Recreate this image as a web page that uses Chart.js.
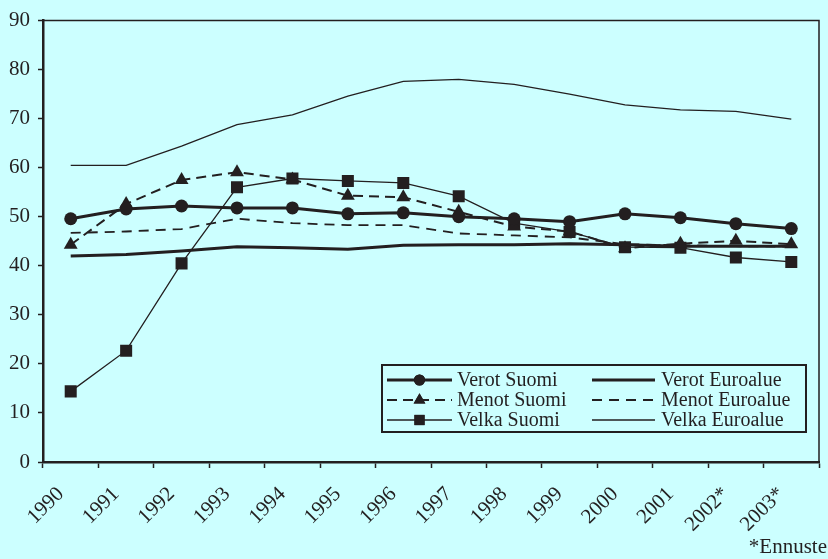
<!DOCTYPE html>
<html>
<head>
<meta charset="utf-8">
<script src="https://cdn.jsdelivr.net/npm/chart.js@4/dist/chart.umd.min.js"></script>
<style>
html,body{margin:0;padding:0;background:#ccffff;}
#wrap{width:828px;height:559px;position:relative;}
</style>
</head>
<body>
<div id="wrap"><canvas id="c" width="828" height="559"></canvas></div>
<script>
const categories = ["1990","1991","1992","1993","1994","1995","1996","1997","1998","1999","2000","2001","2002*","2003*"];
const verotSuomi    = [49.6,51.6,52.2,51.8,51.8,50.6,50.8,50.0,49.6,49.0,50.6,49.8,48.6,47.6];
const verotEuro     = [42.0,42.3,43.0,43.9,43.7,43.4,44.2,44.3,44.3,44.5,44.3,44.0,44.0,44.0];
const menotSuomi    = [44.3,52.6,57.5,59.1,57.6,54.3,54.0,51.0,48.0,47.0,43.6,44.5,45.1,44.4];
const menotEuro     = [46.7,47.0,47.5,49.6,48.7,48.3,48.3,46.6,46.2,45.8,44.4,44.2,44.0,43.9];
const velkaSuomi    = [14.4,22.7,40.5,56.0,57.8,57.3,56.9,54.2,48.7,46.9,43.8,43.7,41.7,40.8];
const velkaEuro     = [60.5,60.5,64.4,68.8,70.8,74.6,77.6,78.0,77.0,75.0,72.8,71.8,71.5,69.9];
const yTicks = [0,10,20,30,40,50,60,70,80,90];
const footnote = "*Ennuste";

const INK = "#231f20";
const FONT = "'Liberation Serif','DejaVu Serif',serif";

const series = [
  {label:"Verot Suomi",    data:verotSuomi, width:3,   dash:[],     point:"circle",   r:6.5},
  {label:"Verot Euroalue", data:verotEuro,  width:3,   dash:[],     point:false,      r:0},
  {label:"Menot Suomi",    data:menotSuomi, width:2,   dash:[10,6], point:"triangle", r:8},
  {label:"Menot Euroalue", data:menotEuro,  width:1.8, dash:[10,7], point:false,      r:0},
  {label:"Velka Suomi",    data:velkaSuomi, width:1.3, dash:[],     point:"rect",     r:8.5},
  {label:"Velka Euroalue", data:velkaEuro,  width:1.3, dash:[],     point:false,      r:0}
];

const datasets = series.map(s => ({
  label: s.label,
  data: s.data,
  borderColor: INK,
  backgroundColor: INK,
  borderWidth: s.width,
  borderDash: s.dash,
  tension: 0,
  fill: false,
  pointStyle: s.point || "circle",
  pointRadius: s.point ? s.r : 0,
  pointBorderWidth: 0,
  pointBackgroundColor: INK,
  pointBorderColor: INK
}));

const bgPlugin = {
  id: "bg",
  beforeDraw(chart){
    const ctx = chart.ctx;
    ctx.save();
    ctx.fillStyle = "#ccffff";
    ctx.fillRect(0,0,chart.width,chart.height);
    ctx.restore();
  },
  afterDraw(chart){
    const ctx = chart.ctx;
    const a = chart.chartArea;
    ctx.save();
    // top and right frame
    ctx.strokeStyle = INK;
    ctx.lineWidth = 1.5;
    ctx.beginPath();
    ctx.moveTo(a.left, a.top);
    ctx.lineTo(a.right, a.top);
    ctx.lineTo(a.right, a.bottom);
    ctx.stroke();

    // legend box
    const bx = 382, by = 365, bw = 424, bh = 67;
    ctx.lineWidth = 2;
    ctx.strokeRect(bx, by, bw, bh);
    const rows = [380, 400, 420];
    const cols = [{x0:387,x1:452,tx:457},{x0:592,x1:655,tx:661}];
    ctx.font = "20px " + FONT;
    ctx.textBaseline = "middle";
    ctx.textAlign = "left";
    series.forEach((s, i) => {
      const col = cols[i % 2];
      const y = rows[Math.floor(i / 2)];
      ctx.strokeStyle = INK;
      ctx.lineWidth = s.width;
      ctx.setLineDash(s.dash);
      ctx.beginPath();
      ctx.moveTo(col.x0, y);
      ctx.lineTo(col.x1, y);
      ctx.stroke();
      ctx.setLineDash([]);
      if (s.point) {
        Chart.helpers.drawPoint(ctx, {pointStyle:s.point, radius:s.r*0.85, rotation:0, borderWidth:0}, (col.x0+col.x1)/2, y);
        ctx.fillStyle = INK;
        ctx.fill();
      }
      ctx.fillStyle = INK;
      ctx.fillText(s.label, col.tx, y + 1);
    });

    // footnote
    ctx.font = "21px " + FONT;
    ctx.textAlign = "right";
    ctx.textBaseline = "alphabetic";
    ctx.fillText(footnote, 827, 553);
    ctx.restore();
  }
};

new Chart(document.getElementById("c"), {
  type: "line",
  data: { labels: categories, datasets: datasets },
  options: {
    responsive: false,
    animation: false,
    devicePixelRatio: 1,
    layout: { padding: { top: 17, right: 9, left: 0, bottom: 0 } },
    plugins: { legend: { display: false }, tooltip: { enabled: false } },
    scales: {
      x: {
        type: "category",
        offset: true,
        grid: { offset: true, drawOnChartArea: false, drawTicks: true, tickLength: 6, color: INK, tickWidth: 1.5 },
        border: { display: true, color: INK, width: 2.5 },
        ticks: {
          color: INK, font: { family: FONT, size: 21 },
          maxRotation: 45, minRotation: 45, autoSkip: false, padding: 14, labelOffset: -10
        },
        afterFit(scale){ scale.height = 97; }
      },
      y: {
        min: 0, max: 90,
        afterBuildTicks(scale){ scale.ticks = yTicks.map(v => ({value:v})); },
        grid: { drawOnChartArea: false, drawTicks: true, tickLength: 5, color: INK, tickWidth: 1.5 },
        border: { display: true, color: INK, width: 2.5 },
        ticks: { color: INK, font: { family: FONT, size: 21 }, padding: 8 },
        afterFit(scale){ scale.width = 43; }
      }
    }
  },
  plugins: [bgPlugin]
});
</script>
</body>
</html>
